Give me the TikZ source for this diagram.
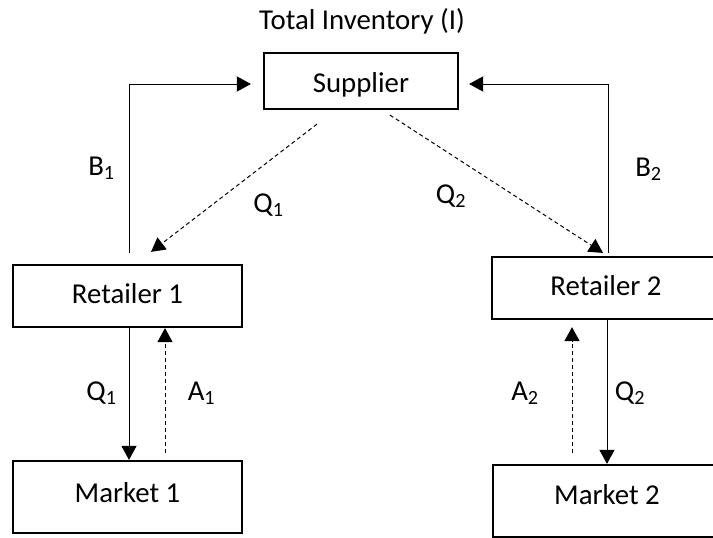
\documentclass[tikz,border=0pt]{standalone}
\usepackage{fontspec}
\setmainfont{Carlito}
\usetikzlibrary{arrows.meta}
\begin{document}
\begin{tikzpicture}[x=1pt,y=-1pt,
  box/.style={draw, line width=2.2pt, inner sep=0pt, font=\fontsize{28.8}{34}\selectfont},
  lbl/.style={anchor=base, inner sep=0pt, font=\fontsize{28.8}{34}\selectfont},
  arr/.style={line width=1pt, -{Triangle[length=14pt,width=15pt]}},
  darr/.style={arr, dash pattern=on 4pt off 3pt},
]
\useasboundingbox (0,0) rectangle (713,538);
% boxes
\node[box, minimum width=194pt, text height=39pt, text depth=17pt] (sup) at (361,81) {Supplier};
\node[box, minimum width=229pt, text height=38pt, text depth=24pt] (r1) at (127.5,296) {Retailer 1};
\node[box, minimum width=229pt, text height=41pt, text depth=31pt] (m1) at (127.5,497) {Market 1};
\node[box, minimum width=228pt, text height=38pt, text depth=24pt] (r2) at (606,288) {Retailer 2};
\node[box, minimum width=228pt, text height=39pt, text depth=33pt] (m2) at (607,501) {Market 2};
% labels
\node[lbl] (title) at (362,30) {Total Inventory (I)};
\node[lbl] (lb1) at (101.5,175) {B\textsubscript{1}};
\node[lbl] (lq1a) at (268.5,212) {Q\textsubscript{1}};
\node[lbl] (lq2a) at (451,203) {Q\textsubscript{2}};
\node[lbl] (lb2) at (648.5,176) {B\textsubscript{2}};
\node[lbl] (lq1b) at (101.5,400) {Q\textsubscript{1}};
\node[lbl] (la1) at (201.5,400) {A\textsubscript{1}};
\node[lbl] (la2) at (525,400) {A\textsubscript{2}};
\node[lbl] (lq2b) at (630,400) {Q\textsubscript{2}};
% connectors
\coordinate (b1c) at (129,84);
\coordinate (b2c) at (608,84);
\draw[arr, shorten <=11pt, shorten >=12pt] (r1.north -| b1c) |- (sup.west |- b1c);
\draw[arr, shorten <=3pt, shorten >=10pt] (r2.north -| b2c) |- (sup.east |- b2c);
\draw[darr] ([shift={(-44pt,-14pt)}]sup.south) -- ([shift={(23.5pt,12pt)}]r1.north);
\draw[darr] ([shift={(29pt,-5pt)}]sup.south) -- ([shift={(-3pt,3pt)}]r2.north);
\draw[arr] ([xshift=1.5pt]r1.south) -- ([xshift=1.5pt]m1.north);
\draw[darr, shorten <=7pt] ([xshift=37.5pt]m1.north) -- ([xshift=37.5pt]r1.south);
\draw[arr] ([xshift=1pt]r2.south) -- (m2.north);
\draw[darr, shorten <=11pt, shorten >=7pt] ([xshift=-35pt]m2.north) -- ([xshift=-34pt]r2.south);
\end{tikzpicture}
\end{document}
